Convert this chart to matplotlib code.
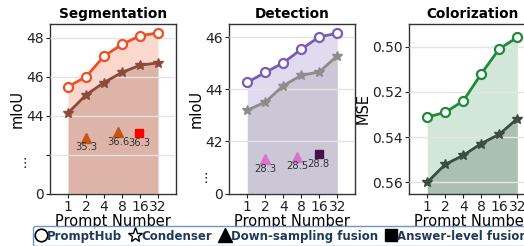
import numpy as np
import matplotlib.pyplot as plt
from matplotlib.lines import Line2D
from matplotlib.transforms import blended_transform_factory

prompt_numbers = ['1', '2', '4', '8', '16', '32']

# segmentation (mIoU)
seg_hub = [45.5, 46.0, 47.07, 47.67, 48.12, 48.26]
seg_cond = [44.14, 45.07, 45.71, 46.23, 46.6, 46.72]
# detection (mIoU)
det_hub = [44.27, 44.65, 45.02, 45.54, 46.02, 46.15]
det_cond = [43.2, 43.51, 44.14, 44.54, 44.67, 45.29]
# colorization (MSE)
col_hub = [0.5312, 0.5291, 0.524, 0.512, 0.501, 0.4959]
col_cond = [0.56, 0.5521, 0.5481, 0.5429, 0.5388, 0.5319]

# baselines drawn on the broken part of the axis: (x index, axis pos, value)
seg_down = [(1, 42.88, '35.3'), (2.8, 43.14, '36.6')]
seg_answer = [(3.95, 43.09, '36.3')]
det_down = [(1, 41.31, '28.3'), (2.76, 41.41, '28.5')]
det_answer = [(3.97, 41.51, '28.8')]

fig = plt.figure(figsize=(5.24, 2.46), dpi=100)
W, H = 524, 246


def make_ax(left):
    return fig.add_axes([left / W, (H - 193.5) / H, 126 / W, 169.5 / H])


def panel(ax, hub, cond, c_hub, c_cond, bottom, a1=0.22, a2=0.25):
    x = np.arange(len(hub))
    ax.fill_between(x, bottom, hub, color=c_hub, alpha=a1, lw=0, zorder=1)
    ax.fill_between(x, bottom, cond, color=c_cond, alpha=a2, lw=0, zorder=1)
    ax.plot(x, hub, color=c_hub, lw=2, marker='o', ms=6.5, mfc='white',
            mec=c_hub, mew=1.6, zorder=4)
    ax.plot(x, cond, color=c_cond, lw=2, marker='*', ms=7.5, mfc=c_cond,
            mec=c_cond, zorder=4)
    ax.set_xticks(x)
    ax.set_xticklabels(prompt_numbers, fontsize=10)
    ax.set_xlim(-1, 6)
    ax.set_xlabel('Prompt Number', fontsize=10.5, labelpad=0)
    ax.tick_params(axis='both', labelsize=10, length=3, pad=1.5, colors='#222222')
    ax.grid(axis='y', color='#e4e4e4', lw=1, zorder=2)
    ax.set_axisbelow(False)
    for s in ax.spines.values():
        s.set_color('#333333')
        s.set_linewidth(1)


def baselines(ax, down, answer, c_down, c_answer, dy):
    for xi, yp, lab in down:
        ax.plot(xi, yp, marker='^', ms=7, color=c_down, lw=0, zorder=5)
        ax.text(xi, yp - dy, lab, fontsize=7.2, color='#333333',
                ha='center', va='center', zorder=5)
    for xi, yp, lab in answer:
        ax.plot(xi, yp, marker='s', ms=5.5, color=c_answer, lw=0, zorder=5)
        ax.text(xi, yp - dy, lab, fontsize=7.2, color='#333333',
                ha='center', va='center', zorder=5)


# Segmentation
ax1 = make_ax(50)
panel(ax1, seg_hub, seg_cond, '#f04e23', '#8c4a3a', 40)
ax1.set_ylim(40, 48.72)
ax1.set_yticks([40, 42, 44, 46, 48])
ax1.set_yticklabels(['0', '', '44', '46', '48'])
ax1.set_ylabel('mIoU', fontsize=10.5, labelpad=1)
ax1.set_title('Segmentation', fontsize=9.8, fontweight='bold', pad=4)
baselines(ax1, seg_down, seg_answer, '#c0561a', '#ff0000', 0.48)
ax1.text(-0.2, 41.52, '⋮', fontsize=9, ha='center', va='center',
         transform=blended_transform_factory(ax1.transAxes, ax1.transData))

# Detection
ax2 = make_ax(229.3)
panel(ax2, det_hub, det_cond, '#7a5cb8', '#8c8c8c', 40)
ax2.set_ylim(40, 46.51)
ax2.set_yticks([40, 42, 44, 46])
ax2.set_yticklabels(['0', '42', '44', '46'])
ax2.set_ylabel('mIoU', fontsize=10.5, labelpad=1)
ax2.set_title('Detection', fontsize=9.8, fontweight='bold', pad=4)
baselines(ax2, det_down, det_answer, '#d873c9', '#4a1245', 0.37)
ax2.text(-0.19, 40.59, '⋮', fontsize=9, ha='center', va='center',
         transform=blended_transform_factory(ax2.transAxes, ax2.transData))

# Colorization
ax3 = make_ax(409.3)
panel(ax3, col_hub, col_cond, '#1e8a3c', '#3b4d3f', 0.565, a1=0.2)
ax3.set_ylim(0.565, 0.49)
ax3.set_yticks([0.50, 0.52, 0.54, 0.56])
ax3.set_yticklabels(['0.50', '0.52', '0.54', '0.56'])
ax3.set_ylabel('MSE', fontsize=10.5, labelpad=1)
ax3.set_title('Colorization', fontsize=9.8, fontweight='bold', pad=4)

handles = [
    Line2D([], [], lw=0, marker='o', ms=9, mfc='white', mec='black', mew=1.2),
    Line2D([], [], lw=0, marker='*', ms=11, mfc='white', mec='black', mew=1),
    Line2D([], [], lw=0, marker='^', ms=10, color='black'),
    Line2D([], [], lw=0, marker='s', ms=9, color='black'),
]
labels = ['PromptHub', 'Condenser', 'Down-sampling fusion', 'Answer-level fusion']
leg = fig.legend(handles, labels, loc='upper left', bbox_to_anchor=(33 / W, 1 - 226 / H),
                 ncol=4, fontsize=8.5, frameon=True, handlelength=0.8,
                 handletextpad=0.1, columnspacing=0.7, borderpad=0.3,
                 borderaxespad=0, fancybox=True)
leg.get_frame().set_edgecolor('#4a7db5')
leg.get_frame().set_linewidth(1)
for t in leg.get_texts():
    t.set_color('#1f3b5c')
    t.set_fontweight('bold')

fig.savefig('out.png', dpi=100)
